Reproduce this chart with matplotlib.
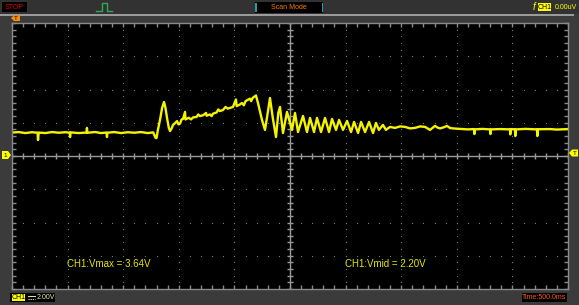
import numpy as np
import matplotlib
matplotlib.use("Agg")
import matplotlib.pyplot as plt
from matplotlib.patches import Rectangle, Polygon

plt.rcParams['font.family'] = ['Liberation Sans', 'DejaVu Sans']

# scope settings
time_per_div = 500.0   # ms
volt_per_div = 2.0     # V
n_xdiv, n_ydiv = 10, 8

# CH1 trace (ms, V)
time_ms = [0, 60, 120, 180, 230, 234, 240, 300, 360, 420, 480, 520, 522, 526, 600, 670, 674, 678,
           750, 800, 850, 854, 858, 920, 980, 1040, 1100, 1160, 1220, 1270,
           1290, 1300, 1310, 1331, 1350, 1367, 1380, 1394, 1410, 1421, 1435, 1448, 1470, 1484,
           1497, 1511, 1525, 1538, 1556, 1560,
           1590, 1610, 1628, 1660, 1675, 1690, 1718, 1745, 1750, 1780, 1795, 1808, 1840, 1855,
           1870, 1898, 1920, 1940, 1987, 2014, 2020, 2050, 2068, 2085, 2100, 2140, 2150, 2165, 2194,
           2212, 2248, 2275, 2295, 2320, 2345, 2374, 2395, 2410, 2437, 2473, 2518, 2545, 2572,
           2617, 2653, 2680, 2716, 2743, 2779, 2815, 2851, 2878, 2914, 2941, 2977, 3013, 3049,
           3076, 3112, 3139, 3175, 3211, 3247, 3273, 3300, 3336, 3363, 3399, 3444, 3490, 3534,
           3580, 3624, 3670, 3714, 3759, 3804, 3830, 3849, 3880, 3912, 3940, 3984, 4056, 4100,
           4155, 4158, 4162, 4230, 4299, 4302, 4306, 4390, 4478, 4481, 4485, 4523, 4526, 4530,
           4620, 4721, 4724, 4728, 4838, 4900, 5000]
volts = [1.41, 1.44, 1.38, 1.43, 1.40, 0.96, 1.41, 1.38, 1.44, 1.40, 1.43, 1.40, 1.14, 1.42, 1.38, 1.41, 1.69, 1.40,
         1.44, 1.38, 1.41, 1.14, 1.40, 1.44, 1.38, 1.43, 1.40, 1.44, 1.38, 1.42,
         1.10, 1.08, 1.50, 2.17, 2.90, 3.25, 2.90, 2.29, 1.70, 1.50, 1.65, 1.87, 2.00, 2.10,
         1.90, 1.95, 2.20, 2.23, 2.65, 2.20,
         2.30, 2.20, 2.32, 2.35, 2.50, 2.40, 2.45, 2.59, 2.42, 2.50, 2.40, 2.55, 2.62, 2.80,
         2.70, 2.77, 2.95, 2.85, 2.95, 3.40, 3.00, 3.10, 3.19, 3.05, 3.30, 3.45, 3.30, 3.50, 3.64,
         3.19, 2.17, 1.57, 2.40, 3.49, 2.30, 1.14, 2.60, 2.95, 1.38, 2.65, 1.57, 2.59, 1.44,
         2.41, 1.44, 2.29, 1.44, 2.29, 1.44, 2.29, 1.44, 2.23, 1.57, 2.17, 1.57, 2.11, 1.44,
         2.05, 1.38, 2.05, 1.44, 2.05, 1.38, 1.99, 1.57, 1.87, 1.57, 1.75, 1.69, 1.78, 1.75,
         1.66, 1.69, 1.78, 1.75, 1.57, 1.81, 1.70, 1.66, 1.72, 1.81, 1.68, 1.65, 1.62, 1.60,
         1.62, 1.32, 1.60, 1.63, 1.60, 1.32, 1.60, 1.62, 1.60, 1.30, 1.62, 1.60, 1.20, 1.60,
         1.63, 1.60, 1.20, 1.61, 1.62, 1.59, 1.62]

vmax_label = "CH1:Vmax = 3.64V"
vmid_label = "CH1:Vmid = 2.20V"

W, H = 579, 305
fig = plt.figure(figsize=(W / 100, H / 100), dpi=100, facecolor='#3b3b3b')

def fx(px):
    return px / W

def fy(py):
    return 1 - py / H

def box(x0, y0, x1, y1, **kw):
    fig.add_artist(Rectangle((fx(x0), fy(y1)), fx(x1) - fx(x0), fy(y0) - fy(y1),
                             transform=fig.transFigure, **kw))

def fline(xs, ys, **kw):
    fig.add_artist(plt.Line2D([fx(v) for v in xs], [fy(v) for v in ys],
                              transform=fig.transFigure, **kw))

# header / frame
box(0, 0, 579, 14, facecolor='#323232', edgecolor='none')
box(0, 14, 574, 15.5, facecolor='#9a9a9a', edgecolor='none')
box(2, 2, 27, 12, facecolor='black', edgecolor='none')
fig.text(fx(5), fy(7.2), 'STOP', color='#e00000', fontsize=5, va='center')
fline([96, 102, 102, 107, 107, 112], [11, 11, 3, 3, 11, 11], color='#2fa84f', lw=1)
box(255, 2, 323, 13, facecolor='black', edgecolor='none')
box(255, 3, 256.5, 12, facecolor='#20a0a0', edgecolor='none')
box(321.5, 3, 323, 12, facecolor='#20a0a0', edgecolor='none')
fig.text(fx(289), fy(7.5), 'Scan Mode', color='#ff7a00', fontsize=5, ha='center', va='center')
fig.text(fx(533), fy(7.5), 'f', color='#ffff00', fontsize=7, style='italic', va='center')
box(538, 3, 551, 11, facecolor='#ffff00', edgecolor='none')
fig.text(fx(544.5), fy(7.2), 'CH1', color='black', fontsize=5, ha='center', va='center')
fig.text(fx(555), fy(7.2), '0.00uV', color='#ffff00', fontsize=5, va='center')
fig.add_artist(Polygon([[fx(11), fy(18)], [fx(14), fy(15.5)], [fx(20), fy(15.5)],
                        [fx(20), fy(21)], [fx(14), fy(21)]], closed=True,
                       transform=fig.transFigure, facecolor='#ff8c00', edgecolor='none'))
fig.text(fx(16), fy(18.2), 'T', color='black', fontsize=4.5, ha='center', va='center')

# footer
box(10, 293, 55, 302, facecolor='black', edgecolor='none')
box(12, 294, 25, 301, facecolor='#ffff00', edgecolor='none')
fig.text(fx(18.5), fy(297.6), 'CH1', color='black', fontsize=5, ha='center', va='center')
# DC coupling symbol (no installed font has it): solid bar over dashed bar
fline([28, 35], [296, 296], color='#e8e8a0', lw=0.7)
fline([28, 35], [298.5, 298.5], color='#e8e8a0', lw=0.7, ls=(0, (1.2, 1)))
fig.text(fx(37), fy(297.6), '2.00V', color='#e8e8a0', fontsize=5, va='center')
box(522, 293, 567, 302, facecolor='black', edgecolor='none')
fig.text(fx(544.5), fy(297.6), 'Time:500.0ms', color='#ff5a1a', fontsize=5, ha='center', va='center')

# channel / trigger level markers
fig.add_artist(Polygon([[fx(2), fy(151)], [fx(8), fy(151)], [fx(11), fy(155)],
                        [fx(8), fy(159)], [fx(2), fy(159)]], closed=True,
                       transform=fig.transFigure, facecolor='#ffff00', edgecolor='none'))
fig.text(fx(5.5), fy(155.2), '1', color='black', fontsize=4.5, ha='center', va='center')
fig.add_artist(Polygon([[fx(569), fy(153)], [fx(572), fy(149.5)], [fx(578), fy(149.5)],
                        [fx(578), fy(156.5)], [fx(572), fy(156.5)]], closed=True,
                       transform=fig.transFigure, facecolor='#ffff00', edgecolor='none'))
fig.text(fx(574.5), fy(153.2), 'T', color='black', fontsize=4.5, ha='center', va='center')

# screen
ax = fig.add_axes([fx(12), fy(289), fx(568) - fx(12), fy(23) - fy(289)], facecolor='black')
t_end = n_xdiv * time_per_div
v_half = n_ydiv / 2 * volt_per_div
ax.set_xlim(0, t_end)
ax.set_ylim(-v_half, v_half)
for s in ax.spines.values():
    s.set_color('#8a8a8a')
    s.set_linewidth(1)

minor_x = np.arange(0, t_end + 1, time_per_div / 5)
minor_y = np.arange(-v_half, v_half + 0.01, volt_per_div / 5)
ax.set_xticks(np.arange(0, t_end + 1, time_per_div))
ax.set_xticks(minor_x, minor=True)
ax.set_yticks(np.arange(-v_half, v_half + 0.01, volt_per_div))
ax.set_yticks(minor_y, minor=True)
ax.tick_params(which='both', direction='in', length=3, color='#8a8a8a', width=1,
               top=True, right=True, labelbottom=False, labelleft=False)

# dotted graticule
dot = dict(ls='none', marker='s', ms=0.8, color='#7a7a7a', mew=0)
for gx in np.arange(time_per_div, t_end, time_per_div):
    if gx != t_end / 2:
        ax.plot(np.full_like(minor_y, gx), minor_y, **dot)
for gy in np.arange(-v_half + volt_per_div, v_half, volt_per_div):
    if gy != 0:
        ax.plot(minor_x, np.full_like(minor_x, gy), **dot)

# centre axes
ax.axhline(0, color='#9a9a9a', lw=1)
ax.axvline(t_end / 2, color='#9a9a9a', lw=1)
ax.plot(minor_x, np.zeros_like(minor_x), ls='none', marker='|', ms=5, color='#9a9a9a', mew=1)
ax.plot(np.full_like(minor_y, t_end / 2), minor_y, ls='none', marker='_', ms=5, color='#9a9a9a', mew=1)

# trace
ax.plot(time_ms, volts, color='#f4f400', lw=1.7, solid_joinstyle='round')

ax.text(495, -6.5, vmax_label, color='#e6e600', fontsize=7, va='center')
ax.text(2995, -6.5, vmid_label, color='#e6e600', fontsize=7, va='center')

fig.savefig('out.png', dpi=100, facecolor=fig.get_facecolor())
